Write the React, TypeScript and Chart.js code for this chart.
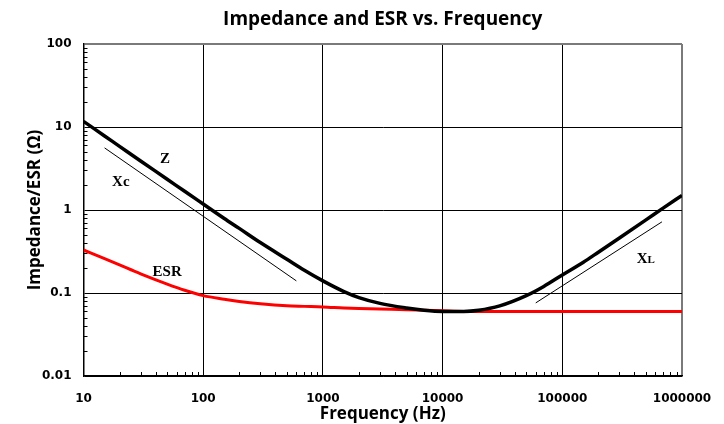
import { useEffect, useRef } from 'react';
import { Chart, registerables } from 'chart.js';

Chart.register(...registerables);

// Frequencies (Hz) at which the curves were read
const FREQ = [10, 15, 20, 30, 50, 70, 100, 150, 200, 300, 500, 700, 1000, 1500, 2000, 3000, 5000, 7000, 10000, 15000, 20000, 30000, 50000, 70000, 100000, 150000, 200000, 300000, 500000, 700000, 1000000];
// Impedance Z (ohm)
const Z_VALUES = [11.7, 7.8, 5.85, 3.9, 2.35, 1.68, 1.18, 0.79, 0.6, 0.405, 0.255, 0.188, 0.14, 0.104, 0.088, 0.075, 0.066, 0.062, 0.06, 0.06, 0.062, 0.07, 0.093, 0.12, 0.165, 0.235, 0.31, 0.46, 0.76, 1.06, 1.5];
// ESR (ohm)
const ESR_VALUES = [0.33, 0.26, 0.218, 0.17, 0.128, 0.108, 0.093, 0.084, 0.079, 0.074, 0.07, 0.069, 0.068, 0.066, 0.065, 0.064, 0.063, 0.062, 0.061, 0.06, 0.06, 0.06, 0.06, 0.06, 0.06, 0.06, 0.06, 0.06, 0.06, 0.06, 0.06];
// Thin asymptote guide lines
const XC_FREQ = [15, 600];
const XC_VALUES = [5.6, 0.14];
const XL_FREQ = [60000, 680000];
const XL_VALUES = [0.076, 0.72];
// Text labels on the plot
const LABEL_TEXT = ['Z', 'Xc', 'ESR'];
const LABEL_FREQ = [48, 20.5, 50];
const LABEL_VALUE = [4.08, 2.19, 0.176];
const XL_LABEL_FREQ = 498000;
const XL_LABEL_VALUE = 0.262;
// Axes
const X_TICKS = [10, 100, 1000, 10000, 100000, 1000000];
const X_TICK_LABELS = ['10', '100', '1000', '10000', '100000', '1000000'];
const Y_TICKS = [0.01, 0.1, 1, 10, 100];
const Y_TICK_LABELS = ['0.01', '0.1', '1', '10', '100'];
const MINOR_MULTIPLIERS = [2, 3, 4, 5, 6, 7, 8, 9];

const TITLE = 'Impedance and ESR vs. Frequency';
const X_TITLE = 'Frequency (Hz)';
const Y_TITLE = 'Impedance/ESR (Ω)';

const pts = (xs: number[], ys: number[]) => xs.map((x, i) => ({ x, y: ys[i] }));

const minorTicksPlugin = {
  id: 'minorTicks',
  beforeDatasetsDraw(chart: any) {
    const { ctx, chartArea, scales } = chart;
    const xs = scales.x;
    const ys = scales.y;
    ctx.save();
    ctx.strokeStyle = '#000';
    ctx.lineWidth = 1;
    ctx.beginPath();
    for (let i = 0; i < Y_TICKS.length - 1; i++) {
      for (const m of MINOR_MULTIPLIERS) {
        const py = Math.round(ys.getPixelForValue(Y_TICKS[i] * m)) + 0.5;
        ctx.moveTo(chartArea.left, py);
        ctx.lineTo(chartArea.left + 4, py);
      }
    }
    for (let i = 0; i < X_TICKS.length - 1; i++) {
      for (const m of MINOR_MULTIPLIERS) {
        const px = Math.round(xs.getPixelForValue(X_TICKS[i] * m)) + 0.5;
        ctx.moveTo(px, chartArea.bottom);
        ctx.lineTo(px, chartArea.bottom - 4);
      }
    }
    ctx.stroke();
    ctx.restore();
  },
};

const labelsPlugin = {
  id: 'curveLabels',
  afterDraw(chart: any) {
    const { ctx, scales } = chart;
    const xs = scales.x;
    const ys = scales.y;
    ctx.save();
    ctx.fillStyle = '#000';
    ctx.textBaseline = 'middle';
    ctx.textAlign = 'center';
    ctx.font = 'bold 15px "Liberation Serif"';
    LABEL_TEXT.forEach((t, i) => {
      ctx.fillText(t, xs.getPixelForValue(LABEL_FREQ[i]), ys.getPixelForValue(LABEL_VALUE[i]));
    });
    // X with small L
    const cx = xs.getPixelForValue(XL_LABEL_FREQ);
    const cy = ys.getPixelForValue(XL_LABEL_VALUE);
    ctx.font = 'bold 15px "Liberation Serif"';
    const wX = ctx.measureText('X').width;
    ctx.font = 'bold 11px "Liberation Serif"';
    const wL = ctx.measureText('L').width;
    const start = cx - (wX + wL) / 2;
    ctx.textAlign = 'left';
    ctx.textBaseline = 'alphabetic';
    ctx.font = 'bold 15px "Liberation Serif"';
    ctx.fillText('X', start, cy + 5);
    ctx.font = 'bold 11px "Liberation Serif"';
    ctx.fillText('L', start + wX, cy + 5);
    ctx.restore();
  },
};

export default function App() {
  const canvasRef = useRef<HTMLCanvasElement | null>(null);

  useEffect(() => {
    const canvas = canvasRef.current;
    if (!canvas) return;
    const tickFont = { family: '"DejaVu Sans"', weight: 'bold' as const, size: 12 };
    const chart = new Chart(canvas, {
      type: 'line',
      data: {
        datasets: [
          {
            label: 'Z',
            data: pts(FREQ, Z_VALUES),
            borderColor: '#000',
            borderWidth: 3.5,
            pointRadius: 0,
            cubicInterpolationMode: 'monotone',
          },
          {
            label: 'ESR',
            data: pts(FREQ, ESR_VALUES),
            borderColor: '#ff0000',
            borderWidth: 3,
            pointRadius: 0,
            cubicInterpolationMode: 'monotone',
          },
          {
            label: 'Xc',
            data: pts(XC_FREQ, XC_VALUES),
            borderColor: '#000',
            borderWidth: 1,
            pointRadius: 0,
          },
          {
            label: 'XL',
            data: pts(XL_FREQ, XL_VALUES),
            borderColor: '#000',
            borderWidth: 1,
            pointRadius: 0,
          },
        ],
      },
      options: {
        animation: false,
        responsive: false,
        layout: { padding: { left: 0, right: 42, top: 0, bottom: 0 } },
        plugins: {
          legend: { display: false },
          tooltip: { enabled: false },
          title: {
            display: true,
            fullSize: false,
            text: TITLE,
            color: '#000',
            font: { family: '"Open Sans"', weight: 'bold', size: 19 },
            padding: { top: 8, bottom: 13.2 },
          },
        },
        scales: {
          x: {
            type: 'logarithmic',
            position: 'bottom',
            min: 10,
            max: 1000000,
            afterBuildTicks: (s: any) => {
              s.ticks = X_TICKS.map((v) => ({ value: v }));
            },
            afterFit: (s: any) => {
              s.height = 48;
            },
            ticks: {
              autoSkip: false,
              maxRotation: 0,
              color: '#000',
              font: tickFont,
              padding: 11,
              callback: (v: any) => X_TICK_LABELS[X_TICKS.indexOf(Number(v))] ?? '',
            },
            grid: {
              drawTicks: true,
              tickLength: 5,
              tickColor: 'rgba(0,0,0,0)',
              color: (c: any) => (c.tick && c.tick.value === 1000000 ? '#7a7a7a' : '#000'),
              lineWidth: (c: any) => (c.tick && c.tick.value === 1000000 ? 2 : 1),
            },
            border: { color: '#000', width: 1.5 },
            title: {
              display: true,
              text: X_TITLE,
              color: '#000',
              font: { family: '"Open Sans"', weight: 'bold', size: 17 },
              padding: { top: 0, bottom: 0 },
            },
          },
          y: {
            type: 'logarithmic',
            position: 'left',
            min: 0.01,
            max: 100,
            afterBuildTicks: (s: any) => {
              s.ticks = Y_TICKS.map((v) => ({ value: v }));
            },
            afterFit: (s: any) => {
              s.width = 83.5;
            },
            ticks: {
              autoSkip: false,
              color: '#000',
              font: tickFont,
              padding: 12,
              callback: (v: any) => Y_TICK_LABELS[Y_TICKS.indexOf(Number(v))] ?? '',
            },
            grid: {
              drawTicks: false,
              color: (c: any) => (c.tick && c.tick.value === 100 ? '#7a7a7a' : '#000'),
              lineWidth: (c: any) => (c.tick && c.tick.value === 100 ? 2 : 1),
            },
            border: { color: '#000', width: 1.5 },
            title: {
              display: true,
              text: Y_TITLE,
              color: '#000',
              font: { family: '"Open Sans"', weight: 'bold', size: 17 },
              padding: { top: 25, bottom: 0 },
            },
          },
        },
      },
      plugins: [minorTicksPlugin, labelsPlugin],
    } as any);
    return () => chart.destroy();
  }, []);

  return (
    <div style={{ position: 'absolute', left: 0, top: 0, width: 724, height: 424 }}>
      <canvas ref={canvasRef} width={724} height={424} style={{ display: 'block' }} />
    </div>
  );
}
